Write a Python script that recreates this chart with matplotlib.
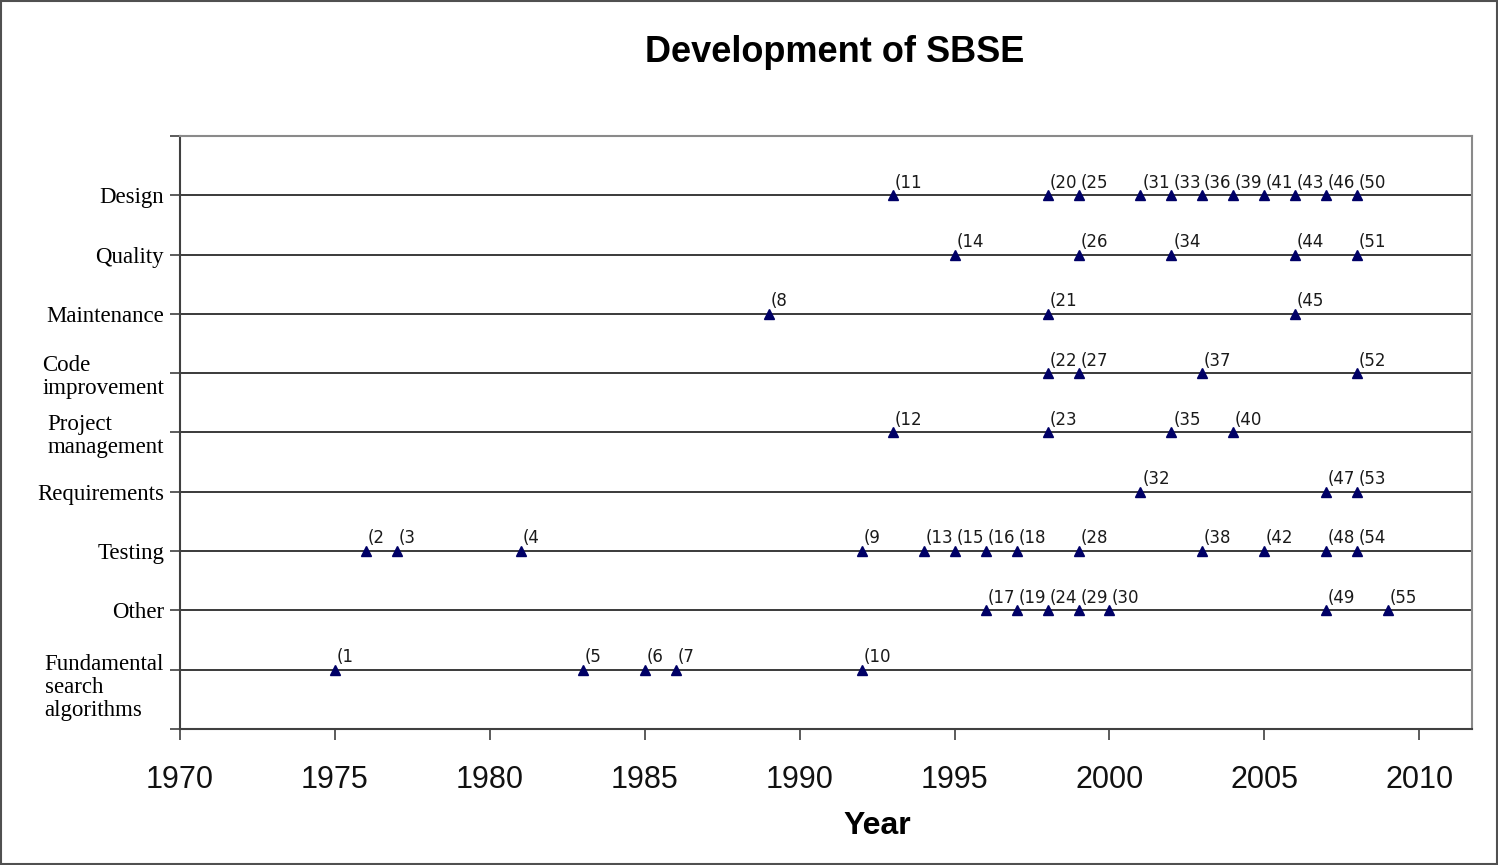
import matplotlib
matplotlib.use("Agg")
import matplotlib.pyplot as plt
import matplotlib.transforms as mtransforms
from matplotlib.patches import Rectangle

# categories from bottom (y=1) to top (y=9)
categories = ["Fundamental\nsearch\nalgorithms", "Other", "Testing", "Requirements",
              "Project\nmanagement", "Code\nimprovement", "Maintenance", "Quality", "Design"]

# (year, reference number) per category
fundamental_years = [1975, 1983, 1985, 1986, 1992]
fundamental_refs = [1, 5, 6, 7, 10]
other_years = [1996, 1997, 1998, 1999, 2000, 2007, 2009]
other_refs = [17, 19, 24, 29, 30, 49, 55]
testing_years = [1976, 1977, 1981, 1992, 1994, 1995, 1996, 1997, 1999, 2003, 2005, 2007, 2008]
testing_refs = [2, 3, 4, 9, 13, 15, 16, 18, 28, 38, 42, 48, 54]
requirements_years = [2001, 2007, 2008]
requirements_refs = [32, 47, 53]
project_years = [1993, 1998, 2002, 2004]
project_refs = [12, 23, 35, 40]
code_years = [1998, 1999, 2003, 2008]
code_refs = [22, 27, 37, 52]
maintenance_years = [1989, 1998, 2006]
maintenance_refs = [8, 21, 45]
quality_years = [1995, 1999, 2002, 2006, 2008]
quality_refs = [14, 26, 34, 44, 51]
design_years = [1993, 1998, 1999, 2001, 2002, 2003, 2004, 2005, 2006, 2007, 2008]
design_refs = [11, 20, 25, 31, 33, 36, 39, 41, 43, 46, 50]

series = [
    (fundamental_years, fundamental_refs),
    (other_years, other_refs),
    (testing_years, testing_refs),
    (requirements_years, requirements_refs),
    (project_years, project_refs),
    (code_years, code_refs),
    (maintenance_years, maintenance_refs),
    (quality_years, quality_refs),
    (design_years, design_refs),
]

W, H = 1498, 865
fig = plt.figure(figsize=(W / 100, H / 100), dpi=100)
fig.patch.set_facecolor("white")
ax = fig.add_axes([180 / W, 1 - 729 / H, (1472 - 180) / W, (729 - 136) / H])

xmin, xmax = 1970, 2011.7
ax.set_xlim(xmin, xmax)
ax.set_ylim(0, 10)

for i, (years, refs) in enumerate(series):
    y = i + 1
    ax.axhline(y, color="#2b2b2b", lw=1.3, zorder=1)
    ax.plot(years, [y] * len(years), linestyle="none", marker="^",
            ms=6.5, color="#000066", zorder=3, clip_on=False)
    for yr, r in zip(years, refs):
        ax.annotate("(" + str(r), (yr, y), xytext=(1.2, 5.5),
                    textcoords="offset points", ha="left", va="baseline",
                    fontsize=12, family="DejaVu Sans", color="#1a1a1a")

# y axis labels
ax.set_yticks(range(0, 11))
ax.set_yticklabels([""] + categories + [""], family="Liberation Serif",
                   fontsize=16.5, multialignment="left", linespacing=1.15)
ax.tick_params(axis="y", direction="out", length=7, width=1.2,
               color="#404040", pad=4.5)
fund_lab = ax.get_yticklabels()[1]
fund_lab.set_transform(fund_lab.get_transform() +
                       mtransforms.ScaledTranslation(0, -0.14, fig.dpi_scale_trans))

# x axis
ax.set_xticks(range(1970, 2011, 5))
ax.set_xticklabels([str(v) for v in range(1970, 2011, 5)],
                   family="Liberation Sans", fontsize=22, color="#111111")
ax.tick_params(axis="x", direction="out", length=8, width=1.2,
               color="#404040", pad=18)

for s in ["left", "bottom"]:
    ax.spines[s].set_color("#404040")
    ax.spines[s].set_linewidth(1.5)
for s in ["top", "right"]:
    ax.spines[s].set_color("#8a8a8a")
    ax.spines[s].set_linewidth(1.5)

fig.text(834.5 / W, 1 - 52 / H, "Development of SBSE", ha="center", va="center",
         family="Liberation Sans", fontsize=26, fontweight="bold")
fig.text(877 / W, 1 - 826 / H, "Year", ha="center", va="center",
         family="Liberation Sans", fontsize=23, fontweight="bold")

fig.add_artist(Rectangle((0.0008, 0.0012), 0.9984, 0.9976, transform=fig.transFigure,
                         fill=False, ec="#505050", lw=1.5))

fig.savefig("out.png", dpi=100)
